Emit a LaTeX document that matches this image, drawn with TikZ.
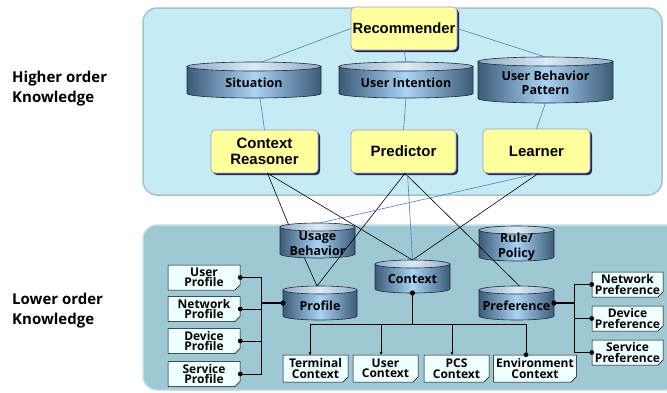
\documentclass[tikz,border=0pt]{standalone}
\usepackage{fontspec}
\setmainfont{Liberation Sans}
\newfontfamily\segfont{Open Sans}
\usetikzlibrary{shapes.misc,shadows,calc,arrows.meta}

\definecolor{panelhi}{HTML}{C5EBF5}
\definecolor{panelhiedge}{HTML}{A4C4CC}
\definecolor{panello}{HTML}{9DC8D4}
\definecolor{panelloedge}{HTML}{C2DFE7}
\definecolor{agentfill}{HTML}{FFFF9C}
\definecolor{agentedge}{HTML}{9A9AC8}
\definecolor{agentshadow}{HTML}{22225E}
\definecolor{cyldark}{HTML}{3C5A78}
\definecolor{cyllight}{HTML}{A9D4F5}
\definecolor{captop}{HTML}{8EAAC4}
\definecolor{caplight}{HTML}{DCEBF6}
\definecolor{cylline}{HTML}{1E2B38}
\definecolor{docfill}{HTML}{EFFFFF}
\definecolor{linkblue}{HTML}{4A7EC8}

% cylinder: name, cx, cy, width, height, cap radius, label
\newcommand\kbcyl[7]{%
  \pgfmathsetmacro\kL{#2-#4/2}%
  \pgfmathsetmacro\kR{#2+#4/2}%
  \pgfmathsetmacro\kH{#4/2}%
  \pgfmathsetmacro\kT{#3-#5/2+#6}%
  \pgfmathsetmacro\kB{#3+#5/2-#6}%
  \draw[cylstroke, left color=cyldark, right color=cyldark, middle color=cyllight]
    (\kL,\kT) -- (\kL,\kB) arc[start angle=180, end angle=360, x radius=\kH pt, y radius=#6pt]
    -- (\kR,\kT) -- cycle;
  \draw[cylstroke, left color=captop, right color=captop, middle color=caplight]
    (#2,\kT) ellipse[x radius=\kH pt, y radius=#6pt];
  \node[cylframe, minimum width=#4pt, minimum height=#5pt] (#1) at (#2,#3) {};
  \node[cyltext] (#1-t) at (#2,#3+3) {#7};
}

\begin{document}
\begin{tikzpicture}[x=1pt, y=-1pt,
  agent/.style={draw=agentedge, line width=0.6pt, fill=agentfill, rounded corners=4pt,
    drop shadow={shadow xshift=2pt, shadow yshift=-2pt, fill=agentshadow, opacity=1},
    align=center, inner sep=0pt, font=\bfseries\fontsize{15}{16}\selectfont},
  cylstroke/.style={draw=cylline, line width=0.6pt},
  cylframe/.style={draw=none, inner sep=0pt, outer sep=0pt},
  cyltext/.style={align=center, inner sep=0pt, font=\segfont\bfseries\fontsize{12.5}{14.5}\selectfont},
  doc/.style={chamfered rectangle, chamfered rectangle corners=south east,
    chamfered rectangle sep=2.5pt, draw=black, line width=0.5pt, fill=docfill,
    inner sep=0pt, minimum height=25pt, align=center,
    font=\segfont\bfseries\fontsize{12}{10.5}\selectfont},
  side/.style={align=left, anchor=west, inner sep=0pt,
    font=\segfont\bfseries\fontsize{15}{20}\selectfont},
  link/.style={draw=black, line width=0.6pt},
  bluelink/.style={draw=linkblue, line width=0.6pt},
  bus/.style={draw=black, line width=0.7pt},
  trunk/.style={draw=black, line width=1.4pt},
  dot/.style={fill=black},
  tip/.style={-{Stealth[length=3pt,width=3pt]}}
]
\useasboundingbox (0,0) rectangle (667,392);

% background panels
\draw[fill=panelhi, draw=panelhiedge, line width=1.5pt, rounded corners=14pt]
  (143,8) rectangle (662,195);
\draw[fill=panello, draw=panelloedge, line width=1.5pt, rounded corners=14pt]
  (143,225) rectangle (680,390);

% side captions
\node[side] (hok) at (12,89) {Higher order\\Knowledge};
\node[side] (lok) at (12,311) {Lower order\\Knowledge};

% higher order components
\node[agent, minimum width=106pt, minimum height=43pt, font=\bfseries\fontsize{14.8}{16}\selectfont]
  (rec) at (404,28.5) {Recommender};
\node[agent, minimum width=107pt, minimum height=43pt] (cr) at (264.5,151.5) {Context\\Reasoner};
\node[agent, minimum width=105pt, minimum height=43pt] (pred) at (403.5,151.5) {Predictor};
\node[agent, minimum width=107pt, minimum height=44pt] (learn) at (536.5,151) {Learner};

\kbcyl{sit}{254}{80}{134}{36}{4.5}{Situation}
\kbcyl{ui}{406}{80}{134}{36}{4.5}{User Intention}
\kbcyl{ubp}{545.5}{80}{135}{46}{4.5}{User Behavior\\Pattern}

% lower order stores
\kbcyl{ub}{317.5}{240.5}{75}{35}{4}{Usage\\Behavior}
\kbcyl{rp}{516.5}{243.5}{75}{35}{4}{Rule/\\Policy}
\kbcyl{ctx}{412.5}{276.5}{75}{33}{4}{Context}
\kbcyl{prof}{320}{303}{74}{34}{4}{Profile}
\kbcyl{pref}{516.5}{303}{75}{34}{4}{Preference}

% profile documents
\node[doc, minimum width=72pt] (up) at (204,277.5) {User\\Profile};
\node[doc, minimum width=72pt] (np) at (204,309) {Network\\Profile};
\node[doc, minimum width=72pt] (dp) at (204,341) {Device\\Profile};
\node[doc, minimum width=72pt] (sp) at (204,374) {Service\\Profile};

% context documents
\node[doc, minimum width=65pt, minimum height=27pt] (tc) at (315.5,368.5) {Terminal\\Context};
\node[doc, minimum width=65pt, minimum height=27pt] (uc) at (385.5,368.5) {User\\Context};
\node[doc, minimum width=65pt, minimum height=27pt] (pc) at (456.5,368.5) {PCS\\Context};
\node[doc, minimum width=82pt, minimum height=27pt] (ec) at (535,368.5) {Environment\\Context};

% preference documents
\node[doc, minimum width=71pt] (npf) at (627.5,284.5) {Network\\Preference};
\node[doc, minimum width=71pt] (dpf) at (627.5,318.5) {Device\\Preference};
\node[doc, minimum width=71pt] (spf) at (627.5,352.5) {Service\\Preference};

% links inside the higher order layer
\draw[bluelink] (rec.west) -- ([xshift=8pt]sit.north);
\draw[bluelink] (rec.south) -- (ui.north);
\draw[bluelink] (rec.east) -- (ubp.north);
\draw[bluelink] ([xshift=6pt]sit.south) -- (cr.north);
\draw[bluelink] (ui.south) -- (pred.north);
\draw[bluelink] (ubp.south) -- (learn.north);

% links between the layers
\draw[link] ([xshift=3pt]cr.south) -- ([xshift=-29pt,yshift=-1.5pt]ub.north);
\draw[link] ([xshift=3pt]cr.south) -- (ctx.north);
\draw[link] ([xshift=1.5pt]pred.south) -- ([xshift=-3pt]prof.north);
\draw[link] ([xshift=1.5pt]pred.south) -- ([xshift=3pt]pref.north);
\draw[bluelink] ([xshift=4pt]pred.south) -- (ctx.north);
\draw[bluelink] ([xshift=2pt]learn.south) -- ([xshift=2pt]ub.north);
\draw[link] ([xshift=2pt]learn.south) -- (ctx.north);
\draw[link] ([xshift=-13pt]ub.south) -- ([xshift=-3pt]prof.north);

% profile tree
\draw[bus] (up.east) -- ++(21,0) |- (sp.east);
\draw[bus] (np.east) -- ++(21,0);
\draw[bus] (dp.east) -- ++(21,0);
\draw[trunk] (prof.west) -- ++(-22,0);
\foreach \n in {up,np,dp,sp} \fill[dot] (\n.east) circle[radius=2.4pt];
\fill[dot] (prof.west) circle[radius=2.6pt];

% context tree
\draw[trunk] (ctx.south) -- ++(0,32);
\draw[bus] ([xshift=-5.5pt]tc.north) -- ++(0,-30) -| ([xshift=-9pt]ec.north);
\draw[bus, tip] ([xshift=-5.5pt,yshift=30pt]tc.north) -- ([xshift=-5.5pt]tc.north);
\draw[bus, tip] ([xshift=-4.5pt]uc.north) ++(0,-30) -- ([xshift=-4.5pt]uc.north);
\draw[bus, tip] ([xshift=-4.5pt]pc.north) ++(0,-30) -- ([xshift=-4.5pt]pc.north);
\fill[dot] (ctx.south) circle[radius=2.6pt];
\fill[dot] ([xshift=-9pt]ec.north) circle[radius=2.4pt];

% preference tree
\draw[trunk] (pref.east) -- ++(21,0);
\draw[bus] (npf.west) -- ++(-17,0) |- (spf.west);
\draw[bus] (dpf.west) -- ++(-17,0);
\foreach \n in {npf,dpf,spf} \fill[dot] (\n.west) circle[radius=2.4pt];
\fill[dot] (pref.east) circle[radius=2.6pt];
\end{tikzpicture}
\end{document}
